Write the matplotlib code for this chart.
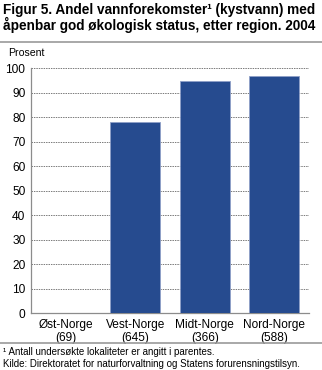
import matplotlib.pyplot as plt
from matplotlib.lines import Line2D

plt.rcParams['font.family'] = ['Liberation Sans', 'DejaVu Sans']

regions = ['Øst-Norge', 'Vest-Norge', 'Midt-Norge', 'Nord-Norge']
counts = [69, 645, 366, 588]
share = [0, 78, 95, 97]
yticks = list(range(0, 101, 10))

bar_color = '#264b8f'
grey = '#8c8c8c'

fig = plt.figure(figsize=(3.22, 3.70), dpi=100)
ax = fig.add_axes([0.096, 0.154, 0.864, 0.661])

x = range(len(regions))
ax.bar(x, share, width=0.72, color=bar_color, edgecolor='#8fa0c8',
       linewidth=0.6, zorder=3)

ax.set_xlim(-0.5, len(regions) - 0.5)
ax.set_ylim(0, 100)
ax.set_yticks(yticks)
ax.set_yticklabels([str(v) for v in yticks], fontsize=8.6)
ax.set_xticks(list(x))
ax.set_xticklabels([f'{r}\n({c})' for r, c in zip(regions, counts)],
                   fontsize=8.6, linespacing=1.15)
ax.tick_params(length=0)
ax.tick_params(axis='x', pad=4)
ax.tick_params(axis='y', pad=4)

ax.grid(axis='y', linestyle=(0, (1.5, 1)), color='#7a7a7a', linewidth=0.7,
        zorder=0)
for side in ('top', 'right'):
    ax.spines[side].set_visible(False)
for side in ('left', 'bottom'):
    ax.spines[side].set_color(grey)
    ax.spines[side].set_linewidth(0.9)

# title block
fig.text(0.01, 0.993, 'Figur 5. Andel vannforekomster¹ (kystvann) med\n'
         'åpenbar god økologisk status, etter region. 2004',
         fontsize=9.8, fontweight='bold', va='top', ha='left', linespacing=1.05)
fig.add_artist(Line2D([0, 1], [0.887, 0.887], color='#9a9a9a', linewidth=1.2))
fig.text(0.025, 0.857, 'Prosent', fontsize=7.6, va='center', ha='left')

# footnotes
fig.add_artist(Line2D([0, 1], [0.073, 0.073], color='#9a9a9a', linewidth=1.2))
fig.text(0.01, 0.049, '¹ Antall undersøkte lokaliteter er angitt i parentes.',
         fontsize=7.0, va='center', ha='left')
fig.text(0.01, 0.016, 'Kilde: Direktoratet for naturforvaltning og Statens forurensningstilsyn.',
         fontsize=7.0, va='center', ha='left')

fig.savefig('out.png', dpi=100)
